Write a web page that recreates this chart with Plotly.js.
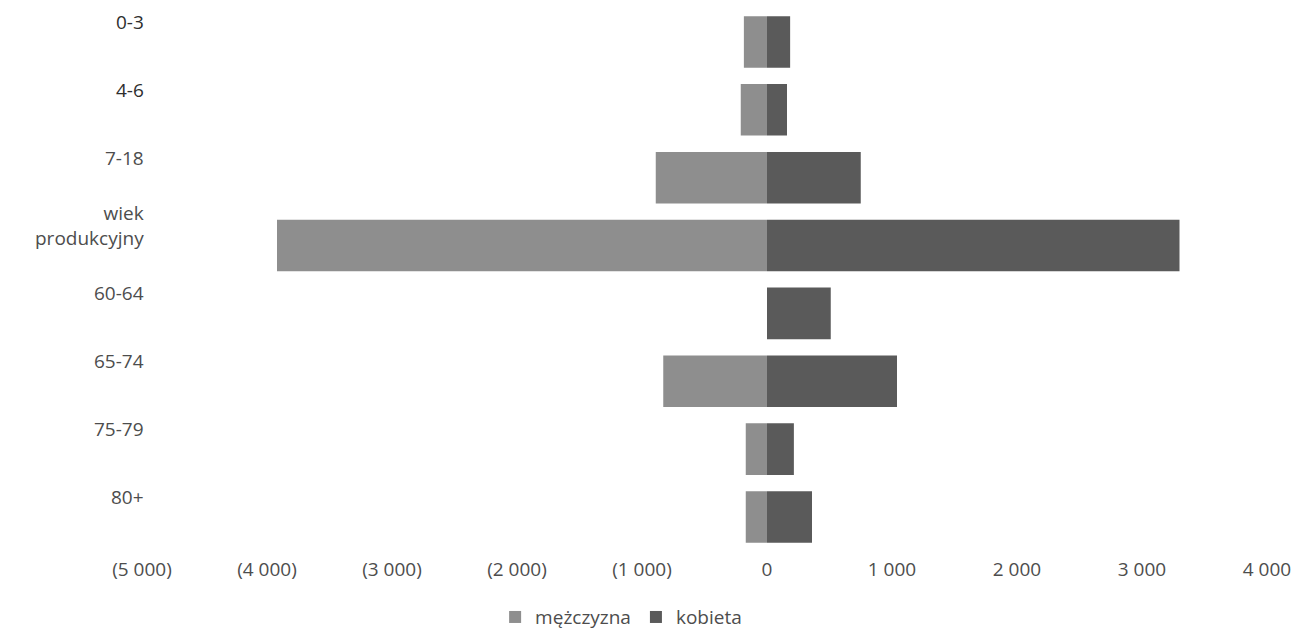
<!DOCTYPE html>
<html>
<head>
<meta charset="utf-8">
<script src="https://cdn.plot.ly/plotly-3.0.1.min.js"></script>
<style>html,body{margin:0;padding:0;background:#fff;}#chart{width:1294px;height:631px;}</style>
</head>
<body>
<div id="chart"></div>
<script>
var categories = ["0-3", "4-6", "7-18", "wiek<br>produkcyjny", "60-64", "65-74", "75-79", "80+"];
var male = [185, 210, 890, 3920, 0, 830, 170, 170];
var female = [185, 160, 750, 3300, 510, 1040, 215, 360];
var tickVals = [-5000, -4000, -3000, -2000, -1000, 0, 1000, 2000, 3000, 4000];
var tickLabels = ["(5 000)", "(4 000)", "(3 000)", "(2 000)", "(1 000)", "0", "1 000", "2 000", "3 000", "4 000"];
var seriesNames = ["mężczyzna", "kobieta"];

var fam = "Open Sans, Noto Sans, sans-serif";
var txt = "#4d4d4d";

var traces = [
  {type: "bar", orientation: "h", name: seriesNames[0], y: categories,
   x: male.map(function(v){return -v;}), marker: {color: "#8e8e8e"}, hoverinfo: "none"},
  {type: "bar", orientation: "h", name: seriesNames[1], y: categories,
   x: female, marker: {color: "#5a5a5a"}, hoverinfo: "none"}
];

var annotations = categories.map(function(c, i){
  return {xref: "paper", yref: "y", x: 0, y: c, xanchor: "right", yanchor: "middle",
          xshift: 4, yshift: 20, text: c, showarrow: false, align: "right",
          font: {family: fam, size: 19, color: i < 2 ? "#2e2e2e" : txt}};
});

var layout = {
  width: 1294, height: 631,
  margin: {l: 142, r: 27, t: 8, b: 79, autoexpand: false},
  paper_bgcolor: "#ffffff", plot_bgcolor: "#ffffff",
  barmode: "relative", bargap: 0.24,
  font: {family: fam, size: 19, color: txt},
  showlegend: true,
  legend: {orientation: "h", xref: "container", yref: "container",
           x: 0.48, xanchor: "center", y: 0.022, yanchor: "middle",
           font: {family: fam, size: 19, color: txt}, traceorder: "normal",
           itemwidth: 30, tracegroupgap: 0},
  xaxis: {range: [-5000, 4000], tickvals: tickVals, ticktext: tickLabels,
          showgrid: false, zeroline: false, showline: false, ticks: "",
          ticklabelstandoff: 4,
          tickfont: {family: fam, size: 19, color: txt}},
  yaxis: {autorange: "reversed", showticklabels: false, showgrid: false,
          zeroline: false, showline: false, ticks: "", type: "category"},
  annotations: annotations
};

Plotly.newPlot("chart", traces, layout, {displayModeBar: false, staticPlot: true});
</script>
</body>
</html>
